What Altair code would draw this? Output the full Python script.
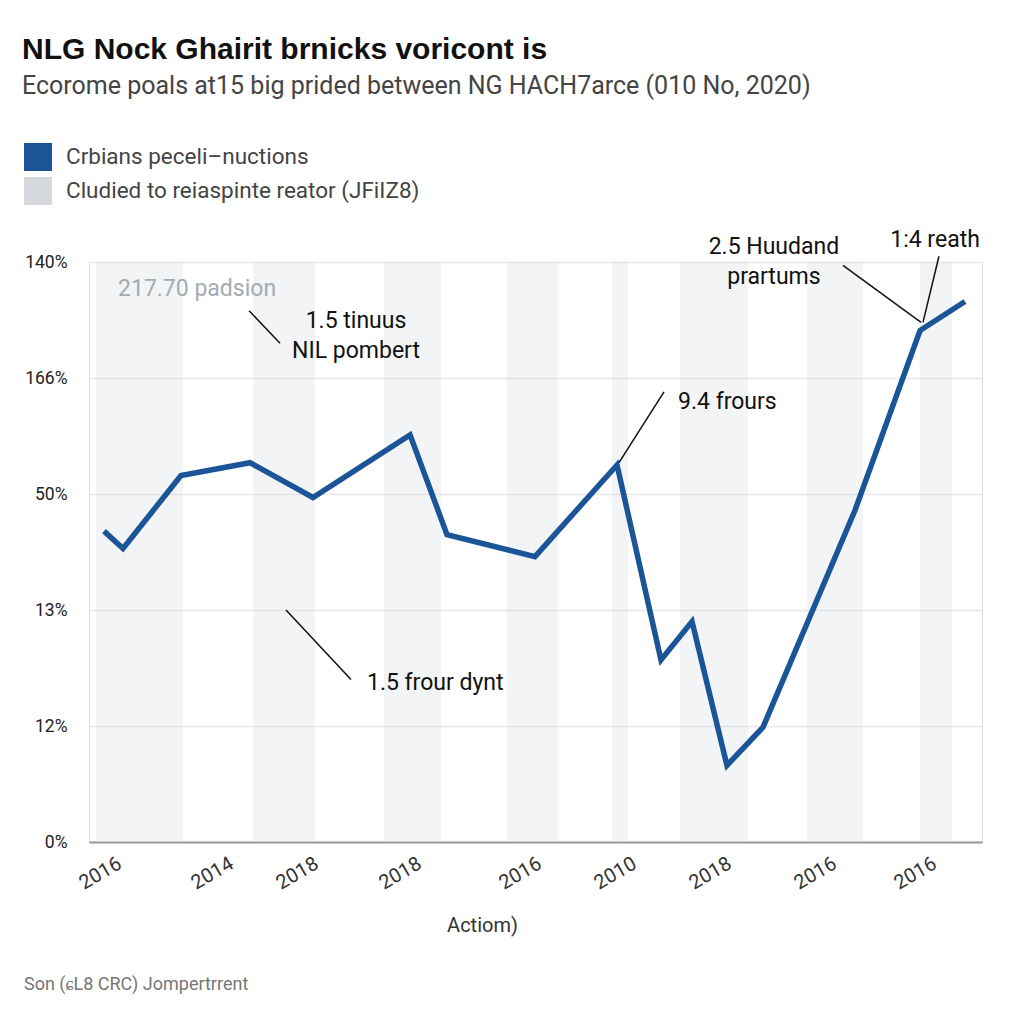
import altair as alt
import pandas as pd

# ---- data ----
line_x = [1.68, 3.81, 10.30, 18.03, 25.08, 35.95, 40.09, 49.94, 59.13, 64.05, 67.53, 71.44, 75.48, 85.78, 93.06, 98.10]
line_y = [2.68, 2.53, 3.16, 3.27, 2.97, 3.51, 2.65, 2.46, 3.25, 1.57, 1.90, 0.66, 0.99, 2.86, 4.41, 4.66]

band_start = [0.78, 18.37, 33.03, 46.81, 58.57, 66.18, 80.40, 93.06]
band_end = [10.53, 25.31, 39.42, 52.52, 60.36, 73.80, 86.67, 96.64]

xtick_pos = [1.23, 13.77, 23.29, 34.83, 48.26, 58.90, 69.54, 81.30, 92.50]
xtick_labels = ["2016", "2014", "2018", "2018", "2016", "2010", "2018", "2016", "2016"]

ytick_pos = [0, 1, 2, 3, 4, 5]
ytick_labels = ["0%", "12%", "13%", "50%", "166%", "140%"]

series_names = ["Crbians peceli\u2013nuctions", "Cludied to reiaspinte reator (JFiIZ8)"]

title_text = "NLG Nock Ghairit brnicks voricont is"
subtitle_text = "Ecorome poals at15 big prided between NG HACH7arce (010 No, 2020)"
x_title = "Actiom)"
footer_text = "Son (\u0255L8 CRC) Jompertrrent"

ann_text = ["1.5 tinuus", "NIL pombert", "9.4 frours", "2.5 Huudand", "prartums", "1:4 reath"]
ann_x = [29.9, 29.9, 65.96, 76.7, 76.7, 94.74]
ann_y = [4.49, 4.23, 3.79, 5.13, 4.87, 5.19]
ann_align = ["center", "center", "left", "center", "center", "center"]

ann2_text = ["1.5 frour dynt"]
ann2_x = [31.13]
ann2_y = [1.37]

gray_text = ["217.70 padsion"]
gray_x = [3.25]
gray_y = [4.77]

lead_x = [17.92, 64.39, 84.43, 95.18, 22.06]
lead_y = [4.58, 3.88, 4.97, 5.05, 2.00]
lead_x2 = [21.39, 59.35, 93.17, 93.39, 29.34]
lead_y2 = [4.30, 3.27, 4.48, 4.48, 1.40]

# ---- tables ----
line_df = pd.DataFrame({"x": line_x, "y": line_y})
band_df = pd.DataFrame({"x": band_start, "x2": band_end, "series": [series_names[1]] * len(band_start)})
ann_df = pd.DataFrame({"t": ann_text, "x": ann_x, "y": ann_y, "a": ann_align})
ann_center = ann_df[ann_df["a"] == "center"]
ann_left = ann_df[ann_df["a"] == "left"]
ann2_df = pd.DataFrame({"t": ann2_text, "x": ann2_x, "y": ann2_y})
gray_df = pd.DataFrame({"t": gray_text, "x": gray_x, "y": gray_y})
lead_df = pd.DataFrame({"x": lead_x, "y": lead_y, "x2": lead_x2, "y2": lead_y2})
foot_df = pd.DataFrame({"t": [footer_text]})

FONT = "Roboto"
BLUE = "#1b5598"
ANN = 23

xs = alt.Scale(domain=[0, 100], nice=False, zero=False)
ys = alt.Scale(domain=[0, 5], nice=False, zero=True)

xlabel_expr = "{" + ",".join(f"'{p}':'{l}'" for p, l in zip(xtick_pos, xtick_labels)) + "}[datum.value]"
ylabel_expr = "[" + ",".join(f"'{l}'" for l in ytick_labels) + "][datum.value]"

bands = alt.Chart(band_df).mark_rect(opacity=0.3).encode(
    x=alt.X("x:Q", scale=xs, axis=alt.Axis(
        values=xtick_pos, labelExpr=xlabel_expr, grid=False, ticks=False,
        labelAngle=-30, labelAlign="center", labelBaseline="middle", labelPadding=31,
        labelFont=FONT, labelFontSize=20, labelColor="#333",
        domainColor="#999", domainWidth=2,
        title=x_title, titleFont=FONT, titleFontSize=20, titleFontWeight="normal",
        titleColor="#333", titleX=393, titleY=83, titleAlign="center", titleBaseline="middle",
        labelOverlap=False,
    )),
    x2="x2:Q",
    y=alt.datum(0, scale=ys, axis=alt.Axis(
        values=ytick_pos, labelExpr=ylabel_expr, grid=True, gridColor="#e6e7e8", gridWidth=1.5,
        domain=False, ticks=False, labelPadding=22,
        labelFont=FONT, labelFontSize=17.5, labelColor="#222", title=None,
    )),
    y2=alt.datum(5),
    color=alt.Color("series:N", scale=alt.Scale(domain=series_names, range=[BLUE, "#d5d9de"]),
                    legend=alt.Legend(
                        orient="none", legendX=-65, legendY=-119, title=None,
                        symbolType="square", symbolSize=784, symbolStrokeWidth=0,
                        symbolOpacity=1, labelFont=FONT, labelFontSize=22.5, labelColor="#444",
                        rowPadding=6, labelOffset=14, labelLimit=600,
                    )),
)

line = alt.Chart(line_df).mark_line(color=BLUE, strokeWidth=5.5, strokeJoin="miter").encode(
    x=alt.X("x:Q", scale=xs), y=alt.Y("y:Q", scale=ys)
)

leads = alt.Chart(lead_df).mark_rule(color="#111", strokeWidth=1.5).encode(
    x="x:Q", y="y:Q", x2="x2:Q", y2="y2:Q"
)

t_center = alt.Chart(ann_center).mark_text(font=FONT, fontSize=ANN, color="#111", align="center", baseline="middle").encode(
    x="x:Q", y="y:Q", text="t:N"
)
t_left = alt.Chart(ann_left).mark_text(font=FONT, fontSize=ANN, color="#111", align="left", baseline="middle").encode(
    x="x:Q", y="y:Q", text="t:N"
)
t2 = alt.Chart(ann2_df).mark_text(font=FONT, fontSize=ANN, color="#111", align="left", baseline="middle").encode(
    x="x:Q", y="y:Q", text="t:N"
)
tg = alt.Chart(gray_df).mark_text(font=FONT, fontSize=ANN, color="#a3abb3", align="left", baseline="middle").encode(
    x="x:Q", y="y:Q", text="t:N"
)
foot = alt.Chart(foot_df).mark_text(font=FONT, fontSize=18, color="#777", align="left", baseline="middle").encode(
    x=alt.value(-65), y=alt.value(723), text="t:N"
)

chart = alt.layer(bands, line, leads, t_center, t_left, t2, tg, foot).properties(
    width=893, height=580,
    padding={"left": 81, "top": 254, "right": 34, "bottom": 170},
    autosize=alt.AutoSizeParams(type="none"),
    title=alt.TitleParams(
        text=title_text, subtitle=subtitle_text, anchor="start", frame="group",
        dx=-67, offset=44, font="Liberation Sans", fontSize=30, fontWeight="bold", color="#111",
        subtitleFont=FONT, subtitleFontSize=25, subtitleColor="#444", subtitlePadding=9,
    ),
).configure_view(stroke=None).configure(background="white")

chart.save("out.html", embed_options={"renderer": "svg", "actions": False})
